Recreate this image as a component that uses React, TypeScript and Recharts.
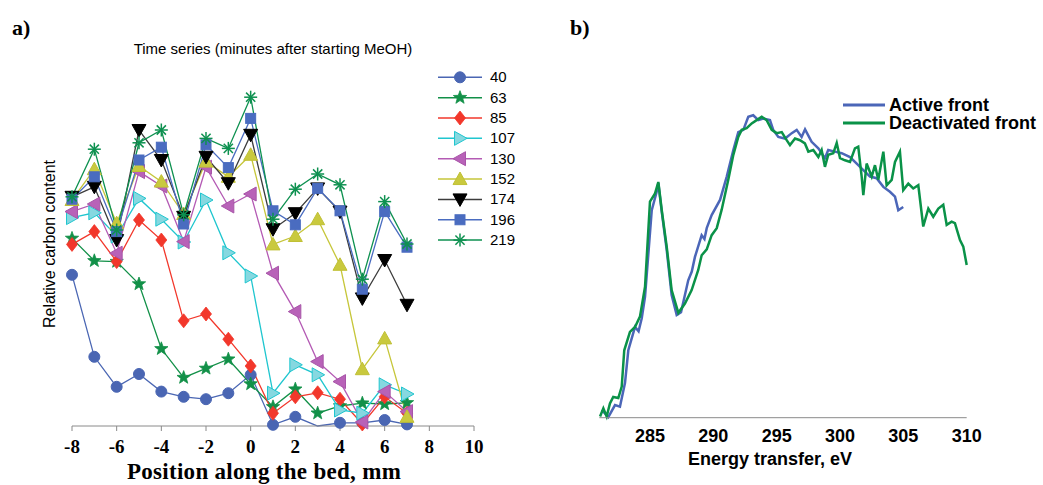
import React from 'react';
import { LineChart, Line, XAxis, YAxis } from 'recharts';

// ---------- Panel a) data ----------
const positions = [-8, -7, -6, -5, -4, -3, -2, -1, 0, 1, 2, 3, 4, 5, 6, 7];
const xTicksA = [-8, -6, -4, -2, 0, 2, 4, 6, 8, 10];
const yTicksA = [0, 1, 2, 3, 4, 5, 6, 7, 8, 9];
const seriesNames = ['40', '63', '85', '107', '130', '152', '174', '196', '219'];

const t40 = [3.78, 1.73, 0.98, 1.3, 0.86, 0.73, 0.67, 0.82, 1.28, 0.03, 0.23, 0, 0.08, 0.08, 0.15, 0.04];
const t63 = [4.69, 4.13, 4.11, 3.55, 1.93, 1.21, 1.44, 1.67, 1.05, 0.48, 0.92, 0.32, 0.5, 0.57, 0.55, 0.58];
const t85 = [4.54, 4.86, 4.11, 5.15, 4.65, 2.63, 2.8, 2.17, 1.5, 0.32, 0.73, 0.83, 0.67, 0.05, 0.73, 0.32];
const t107 = [5.21, 5.33, 4.75, 5.69, 5.17, 4.6, 5.65, 4.33, 3.75, 0.82, 1.53, 1.28, 0.4, 0.32, 1.03, 0.8];
const t130 = [5.36, 5.55, 4.32, 6.36, 6.0, 4.61, 6.47, 5.5, 5.8, 3.82, 2.86, 1.61, 1.11, 0.1, 0.86, 0.36];
const t152 = [5.65, 6.42, 5.07, 6.5, 6.11, 5.3, 6.61, 6.23, 6.78, 4.54, 4.75, 5.17, 4.03, 1.42, 2.19, 0.23];
const t174 = [5.73, 5.98, 4.65, 7.4, 6.65, 5.23, 6.73, 6.07, 7.28, 4.92, 5.32, 5.94, 5.36, 3.19, 4.15, 3.03];
const t196 = [5.67, 6.23, 4.86, 6.65, 6.97, 5.05, 7.03, 6.46, 7.69, 5.38, 5.03, 5.94, 5.38, 3.42, 5.36, 4.47];
const t219 = [5.73, 6.92, 4.9, 7.08, 7.4, 5.28, 7.19, 6.94, 8.22, 5.17, 5.92, 6.3, 6.03, 3.67, 5.61, 4.55];

const seriesValues: Record<string, number[]> = {
  '40': t40, '63': t63, '85': t85, '107': t107, '130': t130,
  '152': t152, '174': t174, '196': t196, '219': t219,
};

// ---------- Panel b) data ----------
const xTicksB = [285, 290, 295, 300, 305, 310];
const yTicksB = [0, 1, 2, 3, 4, 5, 6];

const activeEnergy = [281.19, 281.71, 282.24, 282.63, 283.03, 283.29, 283.82, 284.1, 284.35, 284.61, 285.14, 285.53, 285.66, 285.93, 286.32, 286.71, 287.11, 287.45, 288.02, 288.3, 288.55, 289.08, 289.3, 289.48, 289.87, 290.53, 291.06, 291.58, 291.97, 292.37, 292.76, 293.15, 293.55, 293.94, 294.47, 294.73, 295.13, 295.66, 296.19, 296.58, 296.97, 297.24, 297.76, 298.29, 298.81, 299.07, 299.6, 300.13, 300.79, 301.32, 301.84, 302.37, 302.89, 303.42, 303.94, 304.34, 304.6, 304.99];
const activeIntensity = [0.05, -0.08, 0.14, 0.11, 0.55, 1.15, 1.58, 1.5, 1.74, 2.14, 3.73, 4.07, 4.23, 3.7, 3.0, 2.17, 1.8, 1.85, 2.44, 2.6, 2.87, 3.27, 3.2, 3.4, 3.64, 3.92, 4.35, 4.84, 5.17, 5.21, 5.45, 5.48, 5.39, 5.42, 5.39, 5.21, 5.08, 5.05, 5.15, 5.21, 5.08, 5.22, 4.99, 4.87, 4.69, 4.84, 4.81, 4.78, 4.71, 4.59, 4.47, 4.35, 4.32, 4.16, 4.07, 3.98, 3.73, 3.79];

const deactEnergy = [281.06, 281.32, 281.58, 281.84, 282.1, 282.5, 282.77, 282.97, 283.42, 283.82, 284.21, 284.61, 285.0, 285.4, 285.66, 285.93, 286.32, 286.71, 287.24, 287.76, 288.29, 288.81, 289.08, 289.48, 289.87, 290.27, 290.66, 291.18, 291.58, 291.97, 292.24, 292.63, 293.03, 293.42, 293.82, 294.21, 294.61, 295.0, 295.4, 295.79, 296.05, 296.45, 296.84, 297.23, 297.5, 297.89, 298.29, 298.55, 298.81, 299.07, 299.47, 299.74, 300.0, 300.39, 300.79, 301.18, 301.44, 301.71, 301.84, 302.1, 302.5, 302.76, 303.02, 303.42, 303.68, 304.08, 304.34, 304.73, 304.99, 305.39, 305.78, 306.18, 306.57, 306.97, 307.36, 307.76, 308.15, 308.42, 308.81, 309.07, 309.47, 309.73, 310.0];
const deactIntensity = [-0.07, 0.08, -0.07, 0.17, 0.29, 0.27, 0.48, 1.15, 1.49, 1.58, 1.77, 2.32, 3.89, 4.04, 4.25, 3.73, 3.06, 2.26, 1.84, 2.01, 2.26, 2.63, 2.9, 3.01, 3.27, 3.4, 3.74, 4.29, 4.75, 5.08, 5.21, 5.24, 5.33, 5.39, 5.45, 5.39, 5.21, 5.15, 5.17, 5.02, 4.93, 5.05, 5.02, 4.96, 4.81, 4.84, 4.71, 4.84, 4.53, 4.75, 4.78, 4.97, 4.69, 4.65, 4.62, 4.87, 4.9, 4.35, 4.01, 4.59, 4.35, 4.56, 4.29, 4.81, 4.19, 4.29, 4.62, 4.81, 4.1, 4.22, 4.13, 4.19, 3.43, 3.76, 3.61, 3.76, 3.83, 3.46, 3.52, 3.49, 3.18, 3.06, 2.72];

// ---------- styles ----------
const SANS = '"Liberation Sans", Arial, sans-serif';
const SERIF = '"Liberation Serif", "Times New Roman", serif';
const AXIS_GRAY = '#8a8a8a';

type Style = { shape: string; line: string; fill: string; stroke: string };
const seriesStyle: Record<string, Style> = {
  '40': { shape: 'circle', line: '#4A66B3', fill: '#4A66B3', stroke: '#4A66B3' },
  '63': { shape: 'star', line: '#129048', fill: '#129048', stroke: '#129048' },
  '85': { shape: 'diamond', line: '#F2372B', fill: '#F2372B', stroke: '#F2372B' },
  '107': { shape: 'triRight', line: '#1FC6CF', fill: '#86D8E0', stroke: '#1FC6CF' },
  '130': { shape: 'triLeft', line: '#B45AB4', fill: '#B862B8', stroke: '#A855A8' },
  '152': { shape: 'triUp', line: '#C6C63A', fill: '#C9C93E', stroke: '#C0C035' },
  '174': { shape: 'triDown', line: '#3C3C3C', fill: '#000000', stroke: '#000000' },
  '196': { shape: 'square', line: '#4A6CC0', fill: '#4A6CC0', stroke: '#4A6CC0' },
  '219': { shape: 'asterisk', line: '#0E9150', fill: '#0E9150', stroke: '#0E9150' },
};

function starPoints(cx: number, cy: number, ro: number, ri: number) {
  const pts: string[] = [];
  for (let k = 0; k < 10; k++) {
    const r = k % 2 === 0 ? ro : ri;
    const a = -Math.PI / 2 + (k * Math.PI) / 5;
    pts.push(`${cx + r * Math.cos(a)},${cy + r * Math.sin(a)}`);
  }
  return pts.join(' ');
}

function Marker({ shape, cx, cy, fill, stroke }: { shape: string; cx: number; cy: number; fill: string; stroke: string }) {
  const p = (arr: number[][]) => arr.map((q) => `${cx + q[0]},${cy + q[1]}`).join(' ');
  switch (shape) {
    case 'circle':
      return <circle cx={cx} cy={cy} r={5.5} fill={fill} stroke={stroke} strokeWidth={1} />;
    case 'star':
      return <polygon points={starPoints(cx, cy, 7, 2.9)} fill={fill} stroke={stroke} strokeWidth={0.8} />;
    case 'diamond':
      return <polygon points={p([[0, -7], [5.5, 0], [0, 7], [-5.5, 0]])} fill={fill} stroke={stroke} strokeWidth={0.8} />;
    case 'triRight':
      return <polygon points={p([[-5.5, -7], [7, 0], [-5.5, 7]])} fill={fill} stroke={stroke} strokeWidth={1} />;
    case 'triLeft':
      return <polygon points={p([[5.5, -7], [-7, 0], [5.5, 7]])} fill={fill} stroke={stroke} strokeWidth={1} />;
    case 'triUp':
      return <polygon points={p([[-7, 5.5], [0, -7], [7, 5.5]])} fill={fill} stroke={stroke} strokeWidth={1} />;
    case 'triDown':
      return <polygon points={p([[-7, -5.5], [0, 7], [7, -5.5]])} fill={fill} stroke={stroke} strokeWidth={1} />;
    case 'square':
      return <rect x={cx - 5} y={cy - 5} width={10} height={10} fill={fill} stroke={stroke} strokeWidth={1} />;
    case 'asterisk': {
      const r = 6.5;
      const d = r * 0.7071;
      return (
        <g stroke={stroke} strokeWidth={1.5}>
          <line x1={cx - r} y1={cy} x2={cx + r} y2={cy} />
          <line x1={cx} y1={cy - r} x2={cx} y2={cy + r} />
          <line x1={cx - d} y1={cy - d} x2={cx + d} y2={cy + d} />
          <line x1={cx - d} y1={cy + d} x2={cx + d} y2={cy - d} />
        </g>
      );
    }
    default:
      return null;
  }
}

function makeDot(name: string) {
  const st = seriesStyle[name];
  return (props: any) => {
    const { cx, cy, index, payload } = props;
    const v = payload ? payload['s' + name] : null;
    if (cx == null || cy == null || !(v > 0)) return <g key={`d-${name}-${index}`} />;
    return (
      <g key={`d-${name}-${index}`}>
        <Marker shape={st.shape} cx={cx} cy={cy} fill={st.fill} stroke={st.stroke} />
      </g>
    );
  };
}

const rowsA = positions.map((x, i) => {
  const row: Record<string, number> = { x };
  seriesNames.forEach((n) => {
    row['s' + n] = seriesValues[n][i];
  });
  return row;
});

const activeData = activeEnergy.map((e, i) => ({ e, v: activeIntensity[i] }));
const deactData = deactEnergy.map((e, i) => ({ e, v: deactIntensity[i] }));

export default function App() {
  return (
    <div style={{ position: 'absolute', left: 0, top: 0, width: 1043, height: 485, background: '#fff', overflow: 'hidden' }}>
      {/* Panel a */}
      <div style={{ position: 'absolute', left: 0, top: 0 }}>
        <LineChart width={520} height={485} data={rowsA} margin={{ top: 66, right: 46, bottom: 19, left: 72 }}>
          <XAxis
            dataKey="x"
            type="number"
            domain={[-8, 10]}
            ticks={xTicksA}
            interval={0}
            height={40}
            stroke={AXIS_GRAY}
            tickSize={5}
            tickMargin={8.5}
            tick={{ fontFamily: SERIF, fontWeight: 'bold', fontSize: 19, fill: '#000' }}
          />
          <YAxis
            type="number"
            domain={[0, 9]}
            ticks={yTicksA}
            interval={0}
            width={0}
            stroke={AXIS_GRAY}
            tickSize={6}
            tick={false}
          />
          {seriesNames.map((n) => (
            <Line
              key={n}
              dataKey={'s' + n}
              type="linear"
              stroke={seriesStyle[n].line}
              strokeWidth={1.3}
              dot={makeDot(n)}
              activeDot={false}
              isAnimationActive={false}
            />
          ))}
        </LineChart>
      </div>

      {/* Panel b */}
      <div style={{ position: 'absolute', left: 520, top: 0 }}>
        <LineChart width={523} height={485} margin={{ top: 87, right: 76.3, bottom: 27.3, left: 79.3 }}>
          <XAxis
            dataKey="e"
            type="number"
            domain={[281, 310]}
            ticks={xTicksB}
            interval={0}
            height={40}
            stroke={AXIS_GRAY}
            tickLine={false}
            tickSize={6}
            tickMargin={6}
            allowDuplicatedCategory={false}
            tick={{ fontFamily: SANS, fontWeight: 'bold', fontSize: 18, fill: '#000' }}
          />
          <YAxis
            type="number"
            domain={[-0.092, 6]}
            ticks={yTicksB}
            interval={0}
            width={0}
            stroke={AXIS_GRAY}
            tickSize={5}
            tick={false}
          />
          <Line data={activeData} dataKey="v" type="linear" stroke="#4B66B8" strokeWidth={2.5} dot={false} activeDot={false} isAnimationActive={false} />
          <Line data={deactData} dataKey="v" type="linear" stroke="#0A9248" strokeWidth={2.5} dot={false} activeDot={false} isAnimationActive={false} />
        </LineChart>
      </div>

      {/* Texts and legends */}
      <svg width={1043} height={485} style={{ position: 'absolute', left: 0, top: 0, pointerEvents: 'none' }}>
        <text x={12} y={35} fontFamily={SERIF} fontWeight="bold" fontSize={22} fill="#000">a)</text>
        <text x={570} y={35} fontFamily={SERIF} fontWeight="bold" fontSize={22} fill="#000">b)</text>
        <text x={273} y={54} textAnchor="middle" fontFamily={SANS} fontSize={15} fill="#000">Time series (minutes after starting MeOH)</text>
        <text x={0} y={0} transform="translate(55,244) rotate(-90)" textAnchor="middle" fontFamily={SANS} fontSize={16} fill="#000">Relative carbon content</text>
        <text x={264} y={479} textAnchor="middle" fontFamily={SERIF} fontWeight="bold" fontSize={23} letterSpacing={0.3} fill="#000">Position along the bed, mm</text>
        <text x={770} y={465} textAnchor="middle" fontFamily={SANS} fontWeight="bold" fontSize={18} fill="#000">Energy transfer, eV</text>

        {seriesNames.map((n, i) => {
          const y = 77.3 + i * 20.35;
          const st = seriesStyle[n];
          return (
            <g key={n}>
              <line x1={438} y1={y} x2={482} y2={y} stroke={st.line} strokeWidth={1.5} />
              <Marker shape={st.shape} cx={460} cy={y} fill={st.fill} stroke={st.stroke} />
              <text x={490} y={y + 5} fontFamily={SANS} fontSize={15} fill="#000">{n}</text>
            </g>
          );
        })}

        <line x1={843} y1={105} x2={885} y2={105} stroke="#4B66B8" strokeWidth={3} />
        <text x={889} y={111} fontFamily={SANS} fontWeight="bold" fontSize={18} fill="#000">Active front</text>
        <line x1={843} y1={123} x2={885} y2={123} stroke="#0A9248" strokeWidth={3} />
        <text x={889} y={129} fontFamily={SANS} fontWeight="bold" fontSize={18} fill="#000">Deactivated front</text>
      </svg>
    </div>
  );
}
